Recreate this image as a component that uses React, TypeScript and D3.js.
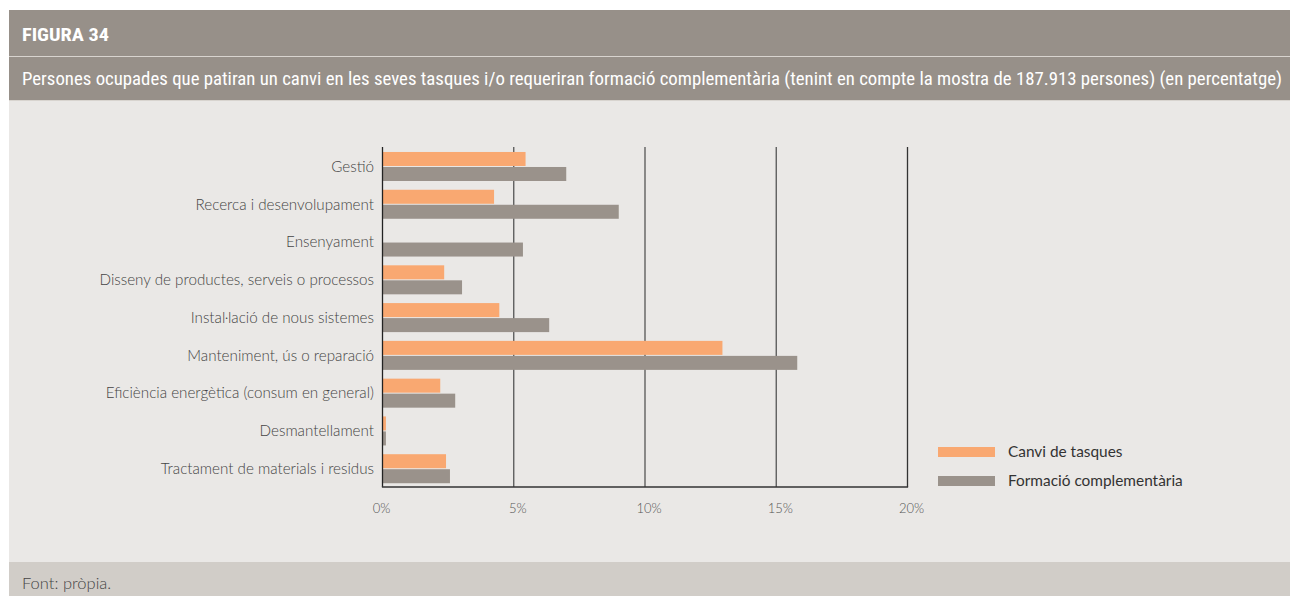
import React from "react";
import * as d3 from "d3";

const categories = [
  "Gestió",
  "Recerca i desenvolupament",
  "Ensenyament",
  "Disseny de productes, serveis o processos",
  "Instal·lació de nous sistemes",
  "Manteniment, ús o reparació",
  "Eficiència energètica (consum en general)",
  "Desmantellament",
  "Tractament de materials i residus",
];
const canviTasques = [5.45, 4.25, 0, 2.35, 4.45, 12.95, 2.2, 0.13, 2.42];
const formacioComplementaria = [7.0, 9.0, 5.35, 3.03, 6.35, 15.8, 2.77, 0.13, 2.57];
const xTicks = [0, 5, 10, 15, 20];
const seriesNames = ["Canvi de tasques", "Formació complementària"];
const seriesColors = ["#f9a871", "#9a928b"];

const W = 1290;
const H = 596;

export default function App() {
  const x = d3.scaleLinear().domain([0, 20]).range([382.5, 907.5]);
  const y = d3
    .scaleBand<string>()
    .domain(categories)
    .range([147.6, 487.6])
    .paddingInner(0.232)
    .paddingOuter(0.116);
  const barH = (y.bandwidth() - 1) / 2;
  const series = [canviTasques, formacioComplementaria];
  const labelFont = "Lato, 'Open Sans', sans-serif";
  const condFont = "'Liberation Sans Narrow', 'Roboto Condensed', Roboto, sans-serif";

  return (
    <svg
      width={W}
      height={H}
      style={{ position: "absolute", left: 0, top: 0, display: "block" }}
    >
      <rect x={0} y={0} width={W} height={H} fill="#ffffff" />
      <rect x={9} y={10} width={W - 9} height={46} fill="#979089" />
      <rect x={9} y={56} width={W - 9} height={1} fill="#d8d4cf" />
      <rect x={9} y={57} width={W - 9} height={43} fill="#979089" />
      <rect x={9} y={100} width={W - 9} height={1} fill="#d8d4cf" />
      <rect x={9} y={101} width={W - 9} height={461} fill="#eae8e6" />
      <rect x={9} y={562} width={W - 9} height={34} fill="#d1cdc8" />
      <text
        x={22}
        y={41}
        fill="#ffffff"
        fontFamily={condFont}
        fontWeight="bold"
        fontSize={18}
        textLength={87}
        lengthAdjust="spacingAndGlyphs"
      >
        FIGURA 34
      </text>
      <text
        x={22}
        y={85}
        fill="#ffffff"
        fontFamily={condFont}
        fontSize={18}
        textLength={1260}
        lengthAdjust="spacingAndGlyphs"
      >
        Persones ocupades que patiran un canvi en les seves tasques i/o requeriran formació complementària (tenint en compte la mostra de 187.913 persones) (en percentatge)
      </text>
      <text x={22} y={589} fill="#444" fontFamily={labelFont} fontSize={16.5} fontWeight={300}>
        Font: pròpia.
      </text>

      {xTicks.slice(1).map((t) => (
        <line
          key={"g" + t}
          x1={x(t)}
          x2={x(t)}
          y1={147}
          y2={487}
          stroke={t === 20 ? "#333" : "#555"}
          strokeWidth={1.3}
        />
      ))}

      {categories.map((c, i) =>
        series.map((s, j) => (
          <rect
            key={c + j}
            x={x(0)}
            y={(y(c) as number) + j * (barH + 1)}
            width={Math.max(0, x(s[i]) - x(0))}
            height={barH}
            fill={seriesColors[j]}
          />
        ))
      )}

      <line x1={x(0)} x2={x(0)} y1={147} y2={487} stroke="#222" strokeWidth={1.3} />
      <line x1={x(0) - 0.6} x2={x(20) + 0.6} y1={487} y2={487} stroke="#333" strokeWidth={1.3} />

      {xTicks.map((t) => (
        <text
          key={"t" + t}
          x={x(t) + (t === 0 ? -1 : 4)}
          y={513}
          textAnchor="middle"
          fill="#555"
          fontFamily={labelFont}
          fontWeight={300}
          fontSize={13}
        >
          {t + "%"}
        </text>
      ))}

      {categories.map((c) => (
        <text
          key={"l" + c}
          x={374}
          y={(y(c) as number) + y.bandwidth() / 2}
          dy="0.35em"
          textAnchor="end"
          fill="#444"
          fontFamily={labelFont}
          fontSize={15.2}
          fontWeight={300}
        >
          {c}
        </text>
      ))}

      {seriesNames.map((n, j) => (
        <g key={n} transform={`translate(938, ${447 + j * 29})`}>
          <rect x={0} y={0} width={57} height={10} fill={seriesColors[j]} />
          <text x={70} y={5} dy="0.35em" fill="#333" fontFamily={labelFont} fontSize={15.4}>
            {n}
          </text>
        </g>
      ))}
    </svg>
  );
}
